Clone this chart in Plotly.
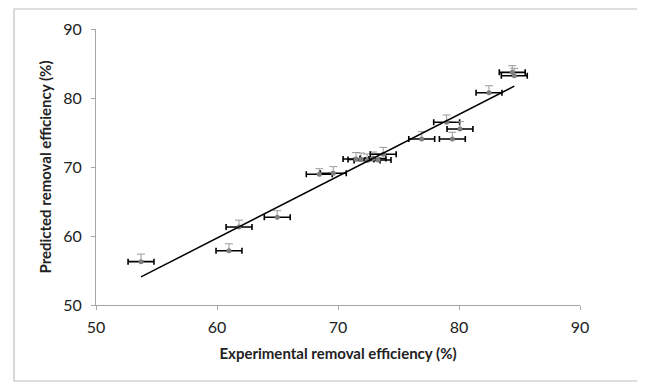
import numpy as np
import plotly.graph_objects as go

# Experimental (x) and predicted (y) removal efficiency (%)
experimental = [53.72, 60.99, 61.82, 64.98, 68.45, 69.61, 71.49, 71.90, 72.40, 72.89,
                73.31, 73.74, 76.92, 78.98, 79.45, 80.08, 82.48, 84.40, 84.57]
predicted = [56.28, 57.87, 61.30, 62.71, 68.94, 69.09, 71.16, 71.09, 70.94, 71.23,
             71.01, 71.84, 74.06, 76.48, 74.06, 75.51, 80.77, 83.72, 83.23]
x_error = [1.07] * len(experimental)
y_error_plus = [1.1, 1.0, 1.0, 0.96, 0.81, 0.96, 0.94, 0.94, 0.94, 0.94,
                0.94, 1.0, 1.06, 1.06, 0.97, 1.06, 1.01, 0.96, 1.07]

x_ticks = [50, 60, 70, 80, 90]
y_ticks = [50, 60, 70, 80, 90]

slope, intercept = np.polyfit(experimental, predicted, 1)
xl = np.array([min(experimental), max(experimental)])

fig = go.Figure()
fig.add_trace(go.Scatter(
    x=experimental, y=predicted, mode="markers",
    marker=dict(color="#7f7f7f", size=5),
    error_x=dict(type="data", array=x_error, color="#000000", thickness=1.6, width=3),
    error_y=dict(type="data", array=y_error_plus, arrayminus=[0] * len(predicted),
                 symmetric=False, color="#9a9a9a", thickness=1, width=4),
    showlegend=False, hoverinfo="skip"))
fig.add_trace(go.Scatter(
    x=xl, y=slope * xl + intercept, mode="lines",
    line=dict(color="#000000", width=1.5), showlegend=False, hoverinfo="skip"))

font_family = "Lato, 'Open Sans', sans-serif"
axis_common = dict(showgrid=False, zeroline=False, showline=True, linecolor="#a6a6a6",
                   linewidth=1.2, ticks="outside", ticklen=4, tickcolor="#a6a6a6",
                   automargin=False,
                   tickfont=dict(family=font_family, size=16, color="#222222"))
fig.update_xaxes(range=[50, 90], tickvals=x_ticks, ticktext=[str(t) for t in x_ticks],
                 ticklabelstandoff=4,
                 title=dict(text="<b>Experimental removal efficiency (%)</b>",
                            font=dict(family=font_family, size=15, color="#222222"),
                            standoff=13),
                 **axis_common)
fig.update_yaxes(range=[50, 90], tickvals=y_ticks, ticktext=[str(t) for t in y_ticks],
                 ticklabelstandoff=6,
                 title=dict(text="<b>Predicted removal efficiency (%)</b>",
                            font=dict(family=font_family, size=15, color="#222222"),
                            standoff=7),
                 **axis_common)

# page body has an 8px margin, so figure coordinates = page coordinates - 8
fig.add_shape(type="rect", xref="paper", yref="paper",
              x0=(6 - 88) / 484, x1=(635 - 88) / 484,
              y0=(297 - 373) / 276, y1=(297 - 1) / 276,
              line=dict(color="#bfbfbf", width=1.2), fillcolor="rgba(0,0,0,0)", layer="below")

fig.update_layout(width=637, height=374, margin=dict(l=88, r=65, t=21, b=77),
                  plot_bgcolor="white", paper_bgcolor="white")
fig.write_html("out.html")
